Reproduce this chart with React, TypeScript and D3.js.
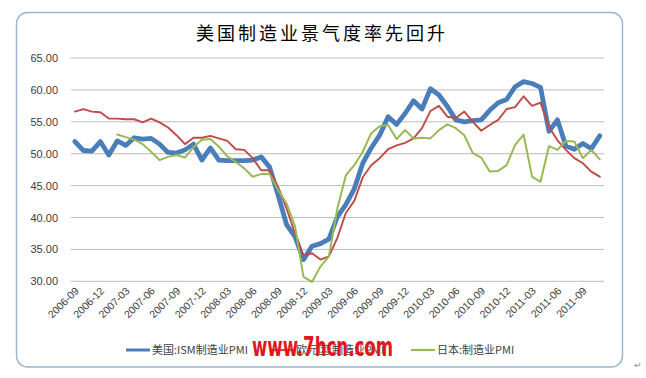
import React from 'react';
import * as d3 from 'd3';

const months = [
  '2006-09','2006-10','2006-11','2006-12',
  '2007-01','2007-02','2007-03','2007-04','2007-05','2007-06','2007-07','2007-08','2007-09','2007-10','2007-11','2007-12',
  '2008-01','2008-02','2008-03','2008-04','2008-05','2008-06','2008-07','2008-08','2008-09','2008-10','2008-11','2008-12',
  '2009-01','2009-02','2009-03','2009-04','2009-05','2009-06','2009-07','2009-08','2009-09','2009-10','2009-11','2009-12',
  '2010-01','2010-02','2010-03','2010-04','2010-05','2010-06','2010-07','2010-08','2010-09','2010-10','2010-11','2010-12',
  '2011-01','2011-02','2011-03','2011-04','2011-05','2011-06','2011-07','2011-08','2011-09','2011-10','2011-11',
];

const usPMI = [
  51.9, 50.5, 50.4, 51.9,
  49.8, 52.0, 51.3, 52.5, 52.3, 52.4, 51.5, 50.2, 50.1, 50.6, 51.5, 49.0,
  50.9, 49.0, 48.9, 48.9, 48.9, 49.0, 49.5, 47.9, 43.5, 38.9, 37.0, 33.4,
  35.5, 35.9, 36.6, 40.1, 42.0, 44.5, 48.5, 50.9, 52.9, 55.8, 54.6, 56.3,
  58.3, 57.0, 60.2, 59.2, 57.4, 55.3, 55.0, 55.2, 55.3, 56.8, 58.0, 58.5,
  60.5, 61.3, 61.0, 60.4, 53.5, 55.3, 51.2, 50.7, 51.6, 50.8, 52.8,
];

const euPMI = [
  56.6, 57.0, 56.6, 56.5,
  55.5, 55.5, 55.4, 55.4, 54.9, 55.5, 54.9, 54.1, 52.9, 51.5, 52.5, 52.5,
  52.8, 52.4, 52.0, 50.7, 50.6, 49.3, 47.4, 47.4, 44.8, 41.4, 37.5, 34.0,
  34.4, 33.4, 33.9, 36.8, 40.7, 42.6, 46.3, 48.2, 49.3, 50.7, 51.3, 51.7,
  52.4, 54.0, 56.7, 57.5, 55.8, 55.6, 56.6, 55.0, 53.6, 54.5, 55.3, 57.0,
  57.3, 59.0, 57.5, 58.0, 54.2, 52.1, 50.6, 49.3, 48.5, 47.2, 46.4,
];

const jpPMI: (number | null)[] = [
  null, null, null, null,
  null, 53.0, 52.6, 52.2, 51.5, 50.3, 49.0, 49.5, 49.8, 49.4, 51.0, 52.2,
  52.3, 51.1, 49.6, 48.7, 47.7, 46.4, 46.8, 46.8, 44.3, 42.2, 38.6, 30.7,
  29.9, 32.3, 33.9, 41.4, 46.6, 48.2, 50.3, 53.2, 54.3, 54.5, 52.3, 53.7,
  52.4, 52.5, 52.4, 53.7, 54.6, 54.0, 52.9, 50.1, 49.4, 47.2, 47.3, 48.2,
  51.4, 53.0, 46.4, 45.6, 51.2, 50.6, 52.0, 51.9, 49.3, 50.6, 49.1,
];

const yTicks = [30, 35, 40, 45, 50, 55, 60, 65];
const xTickLabels = months.filter((_, i) => i % 3 === 0);
const seriesNames = ['美国:ISM制造业PMI', '欧元区:制造业PMI', '日本:制造业PMI'];
const seriesColors = ['#4a7ebb', '#be4b48', '#98b954'];
const title = '美国制造业景气度率先回升';
const watermark = 'www.7hcn.com';

export default function App() {
  const W = 646, H = 378;
  const x = d3.scaleBand<string>().domain(months).range([70.7, 604]);
  const y = d3.scaleLinear().domain([30, 65]).range([281.3, 58]);
  const cx = (m: string) => (x(m) as number) + x.bandwidth() / 2;
  const line = d3
    .line<number | null>()
    .defined((d) => d != null)
    .x((_, i) => cx(months[i]))
    .y((d) => y(d as number))
    .curve(d3.curveLinear);

  const font = "'Liberation Sans', Arial, sans-serif";
  const cjk = "'Noto Sans CJK SC', 'Liberation Sans', sans-serif";

  const series = [usPMI, euPMI, jpPMI];
  const widths = [4.8, 1.9, 2.0];

  const legend = [
    { x1: 126, x2: 150, tx: 152 },
    { x1: 270, x2: 294, tx: 296 },
    { x1: 411, x2: 435, tx: 437 },
  ];

  return (
    <div style={{ position: 'absolute', left: 0, top: 0 }}>
      <svg width={W} height={H} viewBox={`0 0 ${W} ${H}`} style={{ display: 'block', background: '#fff' }}>
        <rect x={0} y={0} width={W} height={H} fill="#fff" />
        <rect x={16.5} y={12.5} width={606} height={354.5} rx={11} ry={11} fill="#fff" stroke="#9db3cf" strokeWidth={1.4} />
        <text x={322} y={40} textAnchor="middle" fontFamily={cjk} fontSize={18} letterSpacing={3} fill="#000">
          {title}
        </text>

        {yTicks.map((t) => (
          <g key={t}>
            <line x1={70.7} x2={604} y1={y(t)} y2={y(t)} stroke="#bcbcbc" strokeWidth={1} />
            <text x={58} y={y(t) + 4} textAnchor="end" fontFamily={font} fontSize={11} fill="#404040">
              {t.toFixed(2)}
            </text>
          </g>
        ))}

        {xTickLabels.map((m) => (
          <text
            key={m}
            transform={`translate(${cx(m) + 2},${289}) rotate(-45)`}
            textAnchor="end"
            dy="0.35em"
            fontFamily={font}
            fontSize={10.5}
            fill="#404040"
          >
            {m}
          </text>
        ))}

        {series.map((s, k) => (
          <path
            key={k}
            d={line(s as (number | null)[]) || ''}
            fill="none"
            stroke={seriesColors[k]}
            strokeWidth={widths[k]}
            strokeLinejoin="round"
            strokeLinecap="round"
          />
        ))}

        {legend.map((l, k) => (
          <g key={k}>
            <line x1={l.x1} x2={l.x2} y1={350} y2={350} stroke={seriesColors[k]} strokeWidth={k === 0 ? 3 : 2.2} />
            <text x={l.tx} y={354} fontFamily={cjk} fontSize={11} fill="#404040">
              {seriesNames[k]}
            </text>
          </g>
        ))}

        <g transform="translate(252,356) scale(1,1.5)">
          <text
            x={0}
            y={0}
            fontFamily="'DejaVu Sans Condensed', 'DejaVu Sans', sans-serif"
            fontWeight="bold"
            fontSize={18}
            fill="#e3141c"
            textLength={141}
            lengthAdjust="spacingAndGlyphs"
          >
            {watermark}
          </text>
        </g>

        <text x={634} y={368} fontFamily="'DejaVu Sans', sans-serif" fontSize={9} fill="#909090">
          ↵
        </text>
      </svg>
    </div>
  );
}
